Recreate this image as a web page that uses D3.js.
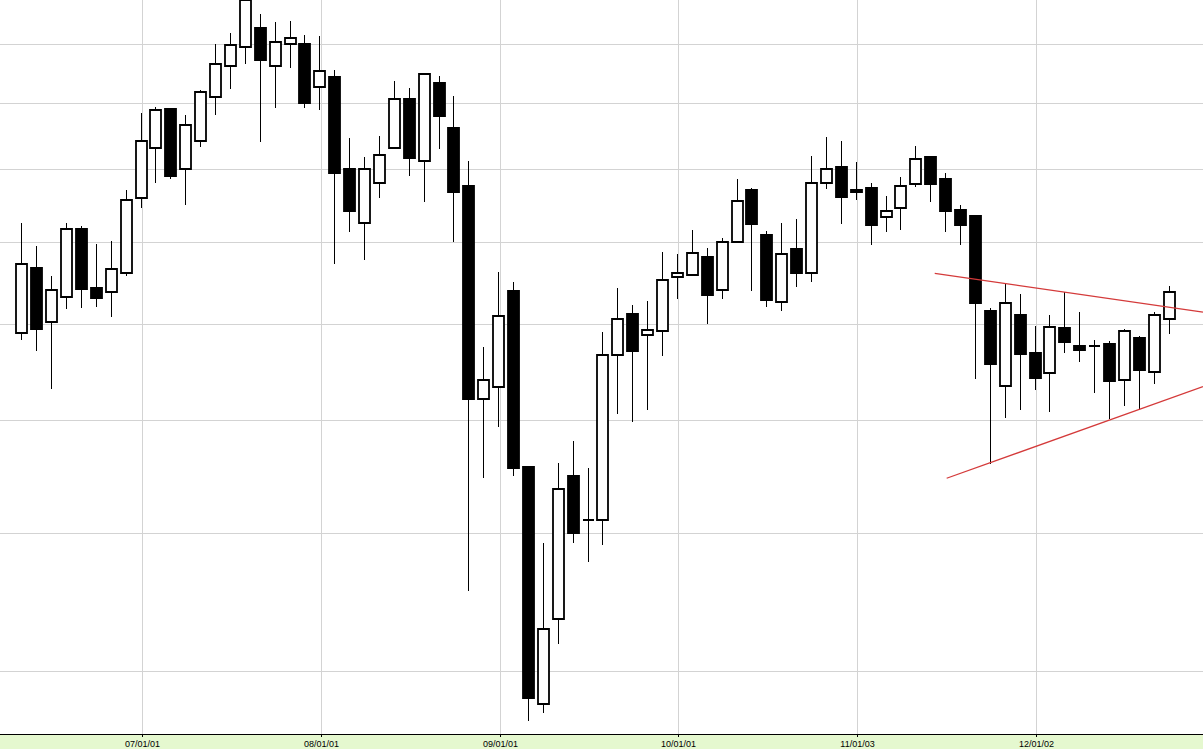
<!DOCTYPE html>
<html><head><meta charset="utf-8">
<script src="https://cdn.jsdelivr.net/npm/d3@7"></script>
<style>html,body{margin:0;padding:0;background:#fff;overflow:hidden}</style>
</head><body>
<script>
// monthly candles, May 2006 .. Oct 2012
const months = d3.timeMonths(new Date(2006, 4, 1), new Date(2012, 10, 1));
const openV  = [690,767,703,732,816,742,738,760,858,930,991,900,941,1010,1062,1095,1129,1062,1100,1101,1026,1043,900,824,880,930,1007,911,1033,961,875,620,633,739,556,379,435,548,510,510,666,712,688,693,755,758,780,740,800,870,808,726,791,761,879,903,870,872,833,844,878,917,885,842,834,715,634,711,668,647,696,676,676,678,640,685,648,706];
const highV  = [825,794,757,824,820,797,801,869,984,994,992,981,1022,1101,1120,1182,1155,1140,1142,1117,1115,1055,946,917,949,1036,1025,1050,1045,1012,911,675,762,749,557,492,560,580,555,691,742,722,727,787,784,815,792,805,885,872,814,824,830,918,947,941,910,879,861,888,934,918,894,848,835,719,747,735,698,711,737,714,682,681,695,687,714,745];
const lowV   = [682,670,631,718,719,720,708,757,845,880,885,849,932,982,1024,1066,940,993,1059,993,990,772,813,776,859,929,890,853,929,800,455,546,593,548,369,374,418,492,477,490,606,598,610,665,729,757,700,729,799,739,720,715,743,749,871,823,856,795,813,815,874,853,813,796,641,559,602,610,630,608,668,659,627,601,614,610,636,689];
const closeV = [772,695,740,816,741,730,765,856,941,990,890,965,1018,1065,1098,1181,1073,1104,1111,1001,1053,894,840,900,920,1007,916,1049,980,867,620,640,710,555,383,428,537,500,510,666,706,671,694,752,760,785,734,799,854,823,728,784,761,880,900,860,867,822,840,875,914,878,840,822,725,657,725,667,642,697,680,672,676,639,692,650,711,738];
const gridValues = [400,500,600,700,800,900,1000,1100];
const tickLabels = ["07/01/01","08/01/01","09/01/01","10/01/01","11/01/03","12/01/02"];
// trend lines: [candle index, value]
const upperTrend = [[61.3,760],[79.3,714]];
const lowerTrend = [[62.1,546],[79.3,633]];

const W = 1203, H = 749, plotBottom = 734;
const svg = d3.select("body").append("svg").attr("width", W).attr("height", H)
  .style("display","block").style("font-family","'Liberation Sans', Arial, sans-serif");

const x = d3.scaleLinear().domain([0, months.length - 1]).range([21.3, 1168.7]);
const y = d3.scaleLog().domain([400, 1100]).range([671, 44.31]);

const tickIdx = months.map((m, i) => m.getMonth() === 0 ? i : -1).filter(i => i >= 0);
const gridOff = 1.4;

svg.append("defs").append("clipPath").attr("id","plot")
  .append("rect").attr("x",0).attr("y",0).attr("width",W).attr("height",plotBottom);
const plot = svg.append("g").attr("clip-path","url(#plot)");

// horizontal grid
plot.selectAll("line.hg").data(gridValues).join("line").attr("class","hg")
  .attr("x1",0).attr("x2",W)
  .attr("y1",d => Math.round(y(d)) + 0.5).attr("y2",d => Math.round(y(d)) + 0.5)
  .attr("stroke","#d3d3d3").attr("stroke-width",1);
// vertical grid
plot.selectAll("line.vg").data(tickIdx).join("line").attr("class","vg")
  .attr("x1",d => Math.round(x(d) + gridOff) + 0.5).attr("x2",d => Math.round(x(d) + gridOff) + 0.5)
  .attr("y1",0).attr("y2",plotBottom)
  .attr("stroke","#d3d3d3").attr("stroke-width",1);

// candles
const data = months.map((m, i) => ({i, o: openV[i], h: highV[i], l: lowV[i], c: closeV[i]}));
const cg = plot.selectAll("g.c").data(data).join("g").attr("class","c");
cg.append("line")
  .attr("x1",d => Math.round(x(d.i)) + 0.5).attr("x2",d => Math.round(x(d.i)) + 0.5)
  .attr("y1",d => Math.round(y(d.h))).attr("y2",d => Math.round(y(d.l)))
  .attr("stroke","#000").attr("stroke-width",1);
cg.append("path")
  .attr("d", d => {
    const xc = Math.round(x(d.i));
    const x0 = xc - 5, x1 = xc + 6;
    const y0 = Math.round(y(Math.max(d.o, d.c)));
    const y1 = Math.round(y(Math.min(d.o, d.c)));
    return `M${x0},${y0}H${x1}V${y1}H${x0}Z`;
  })
  .attr("fill", d => d.c < d.o ? "#000" : "#fff")
  .attr("stroke","#000").attr("stroke-width",1.8);

// trend lines
const tl = d3.line().x(d => x(d[0])).y(d => y(d[1]));
plot.selectAll("path.tr").data([upperTrend, lowerTrend]).join("path").attr("class","tr")
  .attr("d", tl).attr("fill","none").attr("stroke","#d43a3a").attr("stroke-width",1.3);

// axis band
svg.append("rect").attr("x",0).attr("y",plotBottom).attr("width",W).attr("height",H - plotBottom)
  .attr("fill","#e5f8cf");
svg.append("line").attr("x1",0).attr("x2",W).attr("y1",plotBottom + 0.5).attr("y2",plotBottom + 0.5)
  .attr("stroke","#000").attr("stroke-width",1);
const xt = svg.selectAll("g.xt").data(tickIdx).join("g").attr("class","xt")
  .attr("transform", d => `translate(${Math.round(x(d) + gridOff) + 0.5},0)`);
xt.append("line").attr("y1",plotBottom).attr("y2",plotBottom + 3).attr("stroke","#000");
xt.append("text").attr("y",746.5).attr("text-anchor","middle").attr("font-size",9).attr("fill","#000")
  .text((d, k) => tickLabels[k]);
</script>
</body></html>
